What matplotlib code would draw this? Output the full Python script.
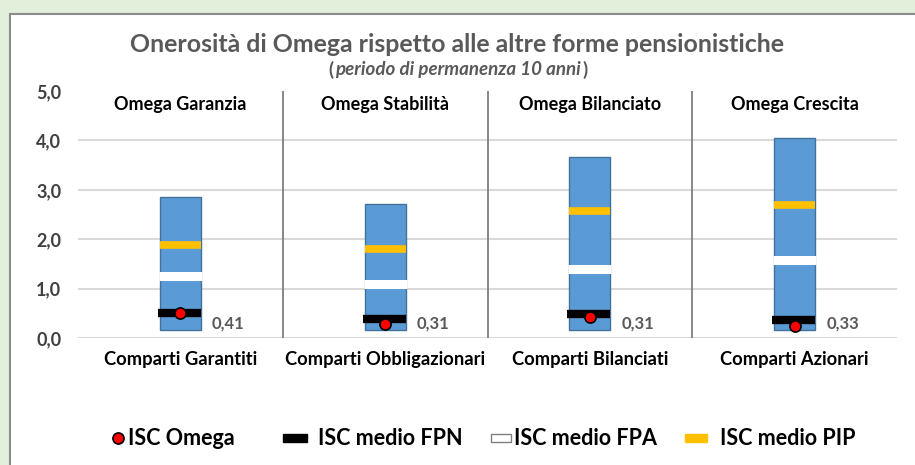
import numpy as np
import matplotlib.pyplot as plt
from matplotlib.patches import Rectangle
from matplotlib.lines import Line2D

plt.rcParams['font.family'] = ['Lato', 'DejaVu Sans']

categories = ['Comparti Garantiti', 'Comparti Obbligazionari', 'Comparti Bilanciati', 'Comparti Azionari']
panels = ['Omega Garanzia', 'Omega Stabilità', 'Omega Bilanciato', 'Omega Crescita']
isc_min = [0.16, 0.16, 0.16, 0.16]
isc_max = [2.85, 2.71, 3.66, 4.05]
isc_pip = [1.88, 1.80, 2.57, 2.69]
isc_fpa = [1.26, 1.09, 1.40, 1.57]
isc_fpn = [0.51, 0.39, 0.49, 0.37]
isc_omega = [0.51, 0.28, 0.43, 0.25]
omega_labels = [0.41, 0.31, 0.31, 0.33]
legend_labels = ['ISC Omega', 'ISC medio FPN', 'ISC medio FPA', 'ISC medio PIP']

blue = '#5b9bd5'
yellow = '#ffc000'
grey_txt = '#595959'

W, H = 915, 465
fig = plt.figure(figsize=(W / 100, H / 100), dpi=100)
fig.patch.set_facecolor('#e2efda')
# pannello bianco con bordo grigio
fig.patches.append(Rectangle((10, -10), 915, 461, transform=None,
                             facecolor='white', edgecolor='#8c8c8c', lw=1.5, zorder=-5))

ax = fig.add_axes([78 / W, 1 - 338 / H, (897 - 78) / W, (338 - 91) / H])
ax.set_facecolor('none')
x = np.arange(len(categories))

ax.set_xlim(-0.5, 3.5)
ax.set_ylim(0, 5)
for v in range(0, 5):
    ax.axhline(v, color='#d9d9d9', lw=1.5, zorder=0)
for s in [0.5, 1.5, 2.5]:
    ax.axvline(s, color='#7f7f7f', lw=1.3, zorder=1)

w = 0.2
ax.bar(x, np.array(isc_max) - np.array(isc_min), bottom=isc_min, width=w,
       color=blue, edgecolor='#41719c', lw=1, zorder=2)
ax.hlines(isc_pip, x - w / 2, x + w / 2, color=yellow, lw=5.5, zorder=3)
ax.hlines(isc_fpa, x - w / 2 - 0.005, x + w / 2 + 0.005, color='white', lw=6.5, zorder=3)
ax.hlines(isc_fpn, x - w / 2 - 0.01, x + w / 2, color='black', lw=6, zorder=3)
ax.plot(x, isc_omega, 'o', color='red', mec='black', mew=1.2, ms=8, zorder=4)

for xi, lab in zip(x, omega_labels):
    ax.text(xi + 0.235, 0.3, f'{lab:.2f}'.replace('.', ','), ha='center', va='center',
            fontsize=12, fontweight='bold', color=grey_txt)

for xi, p in zip(x, panels):
    ax.text(xi, 4.73, p, ha='center', va='center', fontsize=13, fontweight='bold', color='black')

ax.set_yticks(np.arange(0, 5.1, 1))
ax.set_yticklabels([f'{v:.1f}'.replace('.', ',') for v in np.arange(0, 5.1, 1)],
                   fontsize=13, fontweight='bold', color='#404040')
ax.set_xticks(x)
ax.set_xticklabels(categories, fontsize=13.2, fontweight='bold', color='black')
ax.tick_params(length=0, pad=9)
ax.tick_params(axis='y', pad=12)
for sp in ax.spines.values():
    sp.set_visible(False)

fig.text(0.5, 1 - 44 / H, 'Onerosità di Omega rispetto alle altre forme pensionistiche',
         ha='center', va='center', fontsize=17.9, fontweight='bold', color=grey_txt)

# sottotitolo: parentesi dritte, testo in corsivo
sub = fig.text(0.5, 1 - 70 / H, 'periodo di permanenza 10 anni', ha='center', va='center',
               fontsize=13.5, fontweight='bold', fontstyle='italic', color=grey_txt)
bb = sub.get_window_extent(renderer=fig.canvas.get_renderer())
fig.text(bb.x0 / W - 0.001, 1 - 70 / H, '(', ha='right', va='center', fontsize=13.5,
         fontweight='bold', color=grey_txt)
fig.text(bb.x1 / W + 0.002, 1 - 70 / H, ')', ha='left', va='center', fontsize=13.5,
         fontweight='bold', color=grey_txt)

# legenda disegnata a mano
ly = 1 - 438 / H
fig.lines.append(Line2D([118 / W], [ly], marker='o', color='red', mec='black', mew=1.2, ms=8,
                        transform=fig.transFigure))
fig.patches.append(Rectangle((283 / W, ly - 4 / H), 24 / W, 8 / H, transform=fig.transFigure,
                             facecolor='black', edgecolor='black'))
fig.patches.append(Rectangle((491 / W, ly - 4 / H), 20 / W, 8 / H, transform=fig.transFigure,
                             facecolor='white', edgecolor='#7f7f7f', lw=1))
fig.patches.append(Rectangle((685 / W, ly - 4 / H), 22 / W, 8 / H, transform=fig.transFigure,
                             facecolor=yellow, edgecolor=yellow))
for tx, lab in zip([128, 318, 514, 720], legend_labels):
    fig.text(tx / W, ly, lab, ha='left', va='center', fontsize=15.5, fontweight='bold', color='black')

fig.savefig('out.png', dpi=100, facecolor=fig.get_facecolor())
